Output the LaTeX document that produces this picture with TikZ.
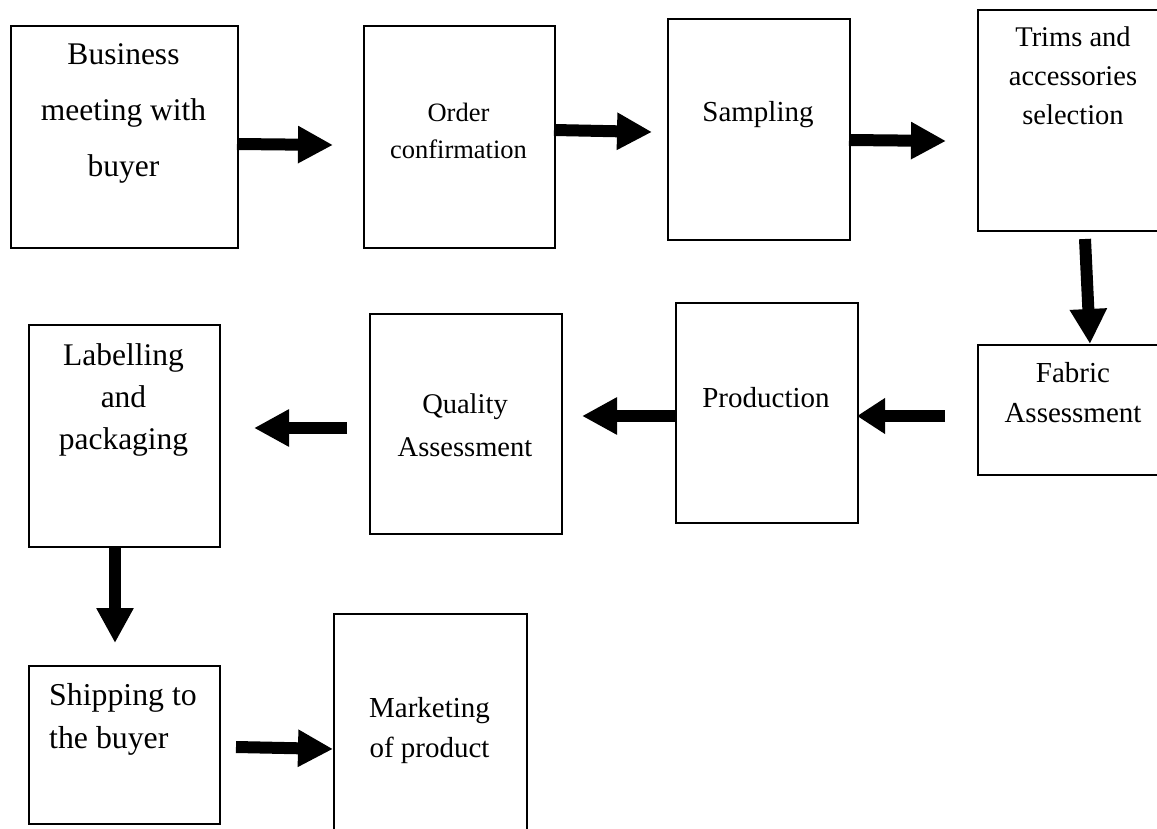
\documentclass[tikz,border=0pt]{standalone}
\usepackage{fontspec}
\setmainfont{Liberation Serif}
\usetikzlibrary{arrows.meta}
\begin{document}
\begin{tikzpicture}[x=1pt,y=-1pt,
  box/.style={draw=black, line width=1.6pt, anchor=north west, inner sep=0pt},
  txt/.style={anchor=base, inner sep=0pt},
  ltxt/.style={anchor=base west, inner sep=0pt},
  blk/.style={line width=12pt, -{Triangle[length=35pt, width=35pt]}},
  blks/.style={line width=12pt, -{Triangle[length=28pt, width=34pt]}}]
\useasboundingbox (0,0) rectangle (1157,829);
\clip (0,0) rectangle (1157,829);
% boxes
\node[box, minimum width=227pt, minimum height=222pt] (b1) at (10,25) {};
\node[box, minimum width=191pt, minimum height=222pt] (b2) at (363,25) {};
\node[box, minimum width=182pt, minimum height=221pt] (b3) at (667,18) {};
\node[box, minimum width=192pt, minimum height=221pt] (b4) at (977,9) {};
\node[box, minimum width=192pt, minimum height=130pt] (b5) at (977,344) {};
\node[box, minimum width=182pt, minimum height=220pt] (b6) at (675,302) {};
\node[box, minimum width=192pt, minimum height=220pt] (b7) at (369,313) {};
\node[box, minimum width=191pt, minimum height=222pt] (b8) at (28,324) {};
\node[box, minimum width=191pt, minimum height=158pt] (b9) at (28,665) {};
\node[box, minimum width=193pt, minimum height=240pt] (b10) at (333,613) {};
% texts
\node[txt, font=\fontsize{31.5}{56}\selectfont] (t1) at (123.5,65)
  {\begin{tabular}[t]{@{}c@{}}Business\\meeting with\\buyer\end{tabular}};
\node[txt, font=\fontsize{26.5}{36.5}\selectfont] (t2) at (458.5,122)
  {\begin{tabular}[t]{@{}c@{}}Order\\confirmation\end{tabular}};
\node[txt, font=\fontsize{29}{40}\selectfont] (t3) at (758,122) {Sampling};
\node[txt, font=\fontsize{28.5}{39}\selectfont] (t4) at (1073,47)
  {\begin{tabular}[t]{@{}c@{}}Trims and\\accessories\\selection\end{tabular}};
\node[txt, font=\fontsize{29}{40}\selectfont] (t5) at (1073,382)
  {\begin{tabular}[t]{@{}c@{}}Fabric\\Assessment\end{tabular}};
\node[txt, font=\fontsize{29}{40}\selectfont] (t6) at (766,407) {Production};
\node[txt, font=\fontsize{28.5}{42.5}\selectfont] (t7) at (465,413.5)
  {\begin{tabular}[t]{@{}c@{}}Quality\\Assessment\end{tabular}};
\node[txt, font=\fontsize{31.5}{42}\selectfont] (t8) at (123.5,365)
  {\begin{tabular}[t]{@{}c@{}}Labelling\\and\\packaging\end{tabular}};
\node[ltxt, font=\fontsize{31.8}{43}\selectfont] (t9) at (49,705)
  {\begin{tabular}[t]{@{}l@{}}Shipping to\\the buyer\end{tabular}};
\node[txt, font=\fontsize{29}{40}\selectfont] (t10) at (429.5,717)
  {\begin{tabular}[t]{@{}c@{}}Marketing\\of product\end{tabular}};
% arrow end points
\coordinate (a1s) at (237,144);  \coordinate (a1e) at (333,145);
\coordinate (a2s) at (554,130);  \coordinate (a2e) at (652,132);
\coordinate (a3s) at (849,140);  \coordinate (a3e) at (946,141);
\coordinate (a4s) at (1085,239); \coordinate (a4e) at (1090,344);
\coordinate (a5s) at (945,416);  \coordinate (a5e) at (857,416);
\coordinate (a6s) at (675,416);  \coordinate (a6e) at (582,416);
\coordinate (a7s) at (347,428);  \coordinate (a7e) at (254,428);
\coordinate (a8s) at (115,546);  \coordinate (a8e) at (115,643);
\coordinate (a9s) at (236,747);  \coordinate (a9e) at (333,749);
% arrows
\draw[blk] (a1s) -- (a1e);
\draw[blk] (a2s) -- (a2e);
\draw[blk] (a3s) -- (a3e);
\draw[blk] (a4s) -- (a4e);
\draw[blks] (a5s) -- (a5e);
\draw[blk] (a6s) -- (a6e);
\draw[blk] (a7s) -- (a7e);
\draw[blk] (a8s) -- (a8e);
\draw[blk] (a9s) -- (a9e);
\end{tikzpicture}
\end{document}
